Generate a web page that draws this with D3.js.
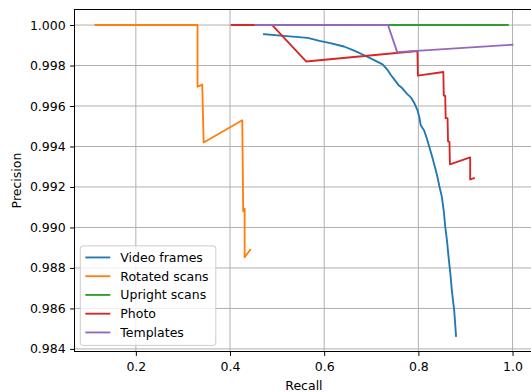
<!DOCTYPE html>
<html>
<head>
<meta charset="utf-8">
<script src="https://cdn.jsdelivr.net/npm/d3@7"></script>
<style>
  html, body { margin: 0; padding: 0; background: #fff; }
  svg { display: block; font-family: "DejaVu Sans", sans-serif; }
</style>
</head>
<body>
<svg id="chart" width="531" height="392"></svg>
<script>
// Precision / recall curves per document source
const seriesNames = ["Video frames", "Rotated scans", "Upright scans", "Photo", "Templates"];
const seriesColors = ["#1f77b4", "#ff7f0e", "#2ca02c", "#d62728", "#9467bd"];

const videoRecall = [0.472, 0.520, 0.565, 0.590, 0.613, 0.642, 0.665, 0.684, 0.705, 0.724, 0.734, 0.742, 0.750, 0.758, 0.765, 0.776, 0.785, 0.792, 0.798, 0.802, 0.805, 0.812, 0.818, 0.823, 0.829, 0.835, 0.840, 0.845, 0.850, 0.854, 0.857, 0.861, 0.864, 0.868, 0.871, 0.874, 0.876, 0.878, 0.880];
const videoPrecision = [0.99955, 0.99945, 0.99937, 0.99922, 0.99911, 0.99894, 0.99872, 0.99852, 0.99828, 0.99806, 0.99780, 0.99752, 0.99728, 0.99703, 0.99690, 0.99660, 0.99640, 0.99612, 0.99580, 0.99545, 0.99505, 0.99480, 0.99440, 0.99400, 0.99352, 0.99300, 0.99255, 0.99200, 0.99150, 0.99080, 0.99005, 0.98930, 0.98857, 0.98770, 0.98692, 0.98630, 0.98593, 0.98530, 0.98464];

const rotatedRecall = [0.114, 0.331, 0.331, 0.341, 0.344, 0.426, 0.428, 0.431, 0.431, 0.443];
const rotatedPrecision = [1.0, 1.0, 0.99695, 0.99706, 0.99420, 0.99530, 0.99080, 0.99092, 0.98853, 0.98890];

const uprightRecall = [0.410, 0.990];
const uprightPrecision = [1.0, 1.0];

const photoRecall = [0.4034, 0.4896, 0.5616, 0.798, 0.799, 0.853, 0.854, 0.857, 0.858, 0.862, 0.863, 0.866, 0.867, 0.910, 0.910, 0.918];
const photoPrecision = [1.0, 1.0, 0.99820, 0.99872, 0.99750, 0.99768, 0.99652, 0.99650, 0.99540, 0.99540, 0.99425, 0.99423, 0.99312, 0.99346, 0.99237, 0.99243];

const templatesRecall = [0.4537, 0.7355, 0.755, 1.0];
const templatesPrecision = [1.0, 1.0, 0.99866, 0.99903];

const xTicks = [0.2, 0.4, 0.6, 0.8, 1.0];
const yTicks = [0.984, 0.986, 0.988, 0.990, 0.992, 0.994, 0.996, 0.998, 1.000];

const recalls = [videoRecall, rotatedRecall, uprightRecall, photoRecall, templatesRecall];
const precisions = [videoPrecision, rotatedPrecision, uprightPrecision, photoPrecision, templatesPrecision];
const series = seriesNames.map((name, i) => ({
  name,
  color: seriesColors[i],
  points: recalls[i].map((r, j) => [r, precisions[i][j]])
}));

const svg = d3.select("#chart");
const plot = { left: 74.5, top: 9.5, right: 533.4, bottom: 351.5 };
const fontSize = 12.5;
const em = fontSize;

// Autoscale with a 5% margin on each side
function padded(values) {
  const [lo, hi] = d3.extent(values);
  const m = (hi - lo) * 0.05;
  return [lo - m, hi + m];
}
const x = d3.scaleLinear().domain(padded(recalls.flat())).range([plot.left, plot.right]);
const y = d3.scaleLinear().domain(padded(precisions.flat())).range([plot.bottom, plot.top]);

// Grid
const grid = svg.append("g").attr("stroke", "#b0b0b0").attr("stroke-width", 1);
grid.selectAll("line.gx").data(xTicks).join("line")
  .attr("x1", d => x(d)).attr("x2", d => x(d))
  .attr("y1", plot.top).attr("y2", plot.bottom);
grid.selectAll("line.gy").data(yTicks).join("line")
  .attr("x1", plot.left).attr("x2", plot.right)
  .attr("y1", d => y(d)).attr("y2", d => y(d));

// Curves
const line = d3.line().x(d => x(d[0])).y(d => y(d[1]));
svg.append("g").selectAll("path").data(series).join("path")
  .attr("d", d => line(d.points))
  .attr("fill", "none")
  .attr("stroke", d => d.color)
  .attr("stroke-width", 1.85)
  .attr("stroke-linejoin", "round")
  .attr("stroke-linecap", "square");

// Axes
const xAxis = d3.axisBottom(x).tickValues(xTicks).tickFormat(d3.format(".1f"))
  .tickSize(4.4).tickPadding(5.8);
const yAxis = d3.axisLeft(y).tickValues(yTicks).tickFormat(d3.format(".3f"))
  .tickSize(4.4).tickPadding(4.4);

const gx = svg.append("g").attr("transform", `translate(0,${plot.bottom})`).call(xAxis);
const gy = svg.append("g").attr("transform", `translate(${plot.left},0)`).call(yAxis);
[gx, gy].forEach(g => {
  g.select(".domain").remove();
  g.selectAll(".tick line").attr("stroke", "#000").attr("stroke-width", 1);
  g.selectAll(".tick text").attr("fill", "#000")
    .style("font-family", "'DejaVu Sans', sans-serif").style("font-size", fontSize + "px");
});

// Frame
svg.append("rect")
  .attr("x", plot.left).attr("y", plot.top)
  .attr("width", plot.right - plot.left).attr("height", plot.bottom - plot.top)
  .attr("fill", "none").attr("stroke", "#000").attr("stroke-width", 1);

// Axis titles
svg.append("text")
  .attr("x", (plot.left + plot.right) / 2).attr("y", 389.5)
  .attr("text-anchor", "middle").attr("font-size", fontSize).attr("fill", "#000")
  .text("Recall");
svg.append("text")
  .attr("transform", `translate(21,${(plot.top + plot.bottom) / 2}) rotate(-90)`)
  .attr("text-anchor", "middle").attr("font-size", fontSize).attr("fill", "#000")
  .text("Precision");

// Legend
const legend = svg.append("g").attr("transform", "translate(80.3,245.9)");
legend.append("rect")
  .attr("width", 135.5).attr("height", 99.5).attr("rx", 2.5)
  .attr("fill", "#fff").attr("fill-opacity", 0.8)
  .attr("stroke", "#cccccc").attr("stroke-width", 1);
const rows = legend.selectAll("g.row").data(series).join("g")
  .attr("transform", (d, i) => `translate(0,${0.4 * em + 0.5 * em + 0.3 + i * 1.5 * em})`);
rows.append("line")
  .attr("x1", 0.4 * em).attr("x2", 2.4 * em)
  .attr("stroke", d => d.color).attr("stroke-width", 1.85);
rows.append("text")
  .attr("x", 3.2 * em).attr("dy", "0.36em")
  .attr("font-size", fontSize).attr("fill", "#000")
  .text(d => d.name);
</script>
</body>
</html>
